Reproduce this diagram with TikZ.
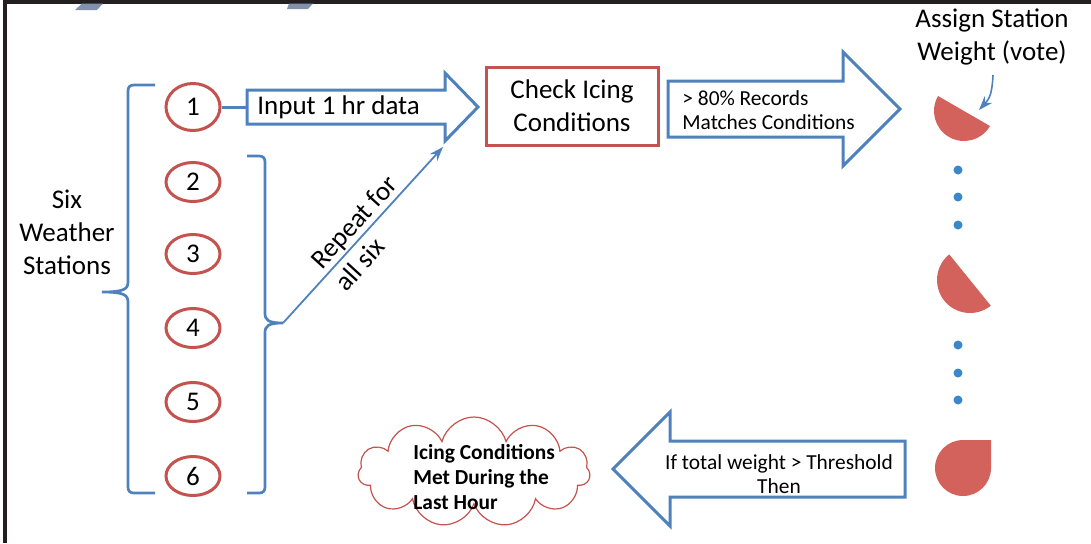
\documentclass[tikz,border=0pt]{standalone}
\usepackage{fontspec}
\setmainfont{Carlito}
\usetikzlibrary{shapes.geometric,shapes.symbols,arrows.meta}
\definecolor{boxblue}{RGB}{79,129,189}
\definecolor{boxred}{RGB}{196,82,78}
\definecolor{piered}{RGB}{212,98,92}
\definecolor{dotblue}{RGB}{58,135,202}
\definecolor{framegray}{RGB}{35,31,32}
\definecolor{scrapgray}{RGB}{130,146,172}

\begin{document}
\begin{tikzpicture}[x=0.5pt,y=0.5pt]
\tikzstyle{every node}+=[inner sep=0pt]
\tikzstyle{big}=[font=\fontsize{13.5}{16.5}\selectfont, align=center]
\tikzstyle{small}=[font=\fontsize{10.7}{12}\selectfont]
\tikzstyle{station}=[ellipse, draw=boxred, line width=1.5pt, minimum width=27pt, minimum height=19.5pt, font=\fontsize{13.5}{16.5}\selectfont]
\tikzstyle{blockarrow}=[draw=boxblue, line width=1.5pt, line join=miter, fill=white]
\tikzstyle{brace}=[draw=boxblue, line width=1.35pt]
\tikzstyle{pie}=[fill=piered]
\tikzstyle{dot}=[fill=dotblue]
\tikzstyle{pointer}=[draw=boxblue, line width=0.9pt, -{Stealth[length=7pt,width=5pt]}]
\useasboundingbox (0,0) rectangle (1091,-543);
% frame
\draw [framegray, line width=1.75pt] (1091,-1.75) -- (5,-1.75) -- (5,-543);
\fill [scrapgray] (82,-3.5) -- (103,-3.5) -- (97,-10) -- (75,-10) -- cycle;
\fill [scrapgray] (289,-3.5) -- (313,-3.5) -- (308,-9) -- (287,-9) -- cycle;
% stations
\node [station, minimum height=23.5pt] (s1) at (193,-107) {1};
\node [station] (s2) at (193,-182) {2};
\node [station] (s3) at (193,-254) {3};
\node [station] (s4) at (193,-328) {4};
\node [station] (s5) at (193,-402) {5};
\node [station] (s6) at (193,-476) {6};
\draw [brace] (155,-85) -- (134,-85) .. controls (130,-85) and (128,-87) .. (128,-91) -- (128,-282) .. controls (128,-289) and (124,-292) .. (102,-292) .. controls (124,-292) and (128,-295) .. (128,-302) -- (128,-487) .. controls (128,-491) and (130,-493) .. (134,-493) -- (155,-493);
\draw [brace] (247,-156) -- (259,-156) .. controls (263,-156) and (265,-158) .. (265,-162) -- (265,-313) .. controls (265,-320) and (268,-323) .. (283,-323) .. controls (268,-323) and (265,-326) .. (265,-333) -- (265,-487) .. controls (265,-491) and (263,-493) .. (259,-493) -- (247,-493);
\node [big] (stations) at (67,-232) {Six\\Weather\\Stations};
% input arrow
\draw [blockarrow] (247,-90) -- (445,-90) -- (445,-73) -- (478,-107) -- (445,-141) -- (445,-124) -- (247,-124) -- cycle;
\coordinate (in1) at (247,-107);
\draw [boxblue, line width=1.5pt] (s1) -- (in1);
\node [big, anchor=west] (input) at (257,-107) {Input 1 hr data};
\coordinate (rtip) at (283,-323);
\coordinate (aim) at (443,-147);
\draw [pointer] (rtip) -- (aim);
\node [big, align=left, rotate=47.7] (repeat) at (366,-233) {Repeat for\\all six};
\node [big, draw=boxred, line width=1.5pt, minimum width=86pt, minimum height=39pt] (check) at (572,-106) {Check Icing\\Conditions};
% match arrow
\draw [blockarrow] (668,-81) -- (843,-81) -- (843,-52) -- (900,-109) -- (843,-166) -- (843,-137) -- (668,-137) -- cycle;
\node [small, anchor=west, align=left] (records) at (682,-110) {> 80\% Records\\Matches Conditions};
\node [big] (assign) at (992,-37) {Assign Station\\Weight (vote)};
\coordinate (vote) at (993,-75);
\coordinate (w1) at (979,-110);
\draw [pointer, line width=0.8pt] (vote) .. controls (992,-97) and (988,-100) .. (w1);
% weights
\fill [pie] (964,-111) ++(150:30) arc [start angle=150, end angle=330, radius=30] -- cycle;
\fill [pie] (970,-280) ++(129:33) arc [start angle=129, end angle=309, radius=33] -- cycle;
\fill [pie] (963,-440) arc [start angle=90, end angle=360, radius=28] -- (991,-440) -- cycle;
\fill [dot] (958,-170) circle (4.5);
\fill [dot] (958,-197) circle (4.5);
\fill [dot] (958,-225) circle (4.5);
\fill [dot] (958,-345) circle (4.5);
\fill [dot] (958,-373) circle (4.5);
\fill [dot] (958,-400) circle (4.5);
% threshold arrow
\draw [blockarrow] (905,-441) -- (670,-441) -- (670,-412) -- (613,-469) -- (670,-526) -- (670,-497) -- (905,-497) -- cycle;
\node [small, align=center] (then) at (779,-474) {If total weight > Threshold\\Then};
\node [cloud, cloud puffs=11, aspect=2, draw=boxred, line width=0.6pt, minimum width=116pt, minimum height=55pt] (cloud) at (474,-472) {};
\node [font=\fontsize{10.7}{12.5}\selectfont\bfseries, align=left, anchor=west] (result) at (413,-477) {Icing Conditions\\Met During the\\Last Hour};
\end{tikzpicture}
\end{document}
